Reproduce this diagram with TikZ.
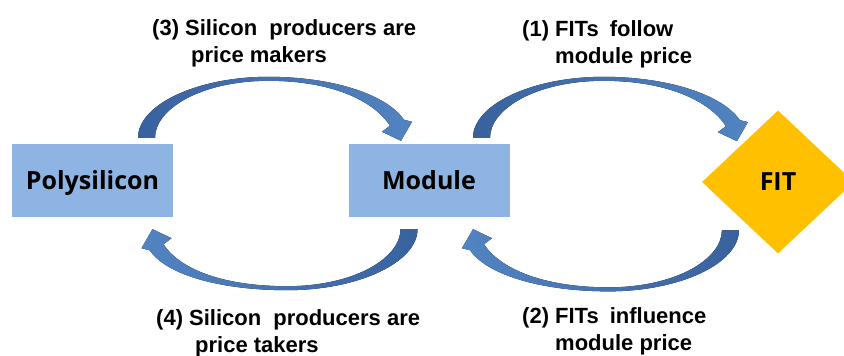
\documentclass[tikz,border=0pt]{standalone}
\usepackage{fontspec}
\setmainfont{Liberation Sans}
\newfontfamily\nodefont{Open Sans}
\usepackage{tikz}
\usetikzlibrary{shapes.geometric,calc}
\usepackage{xcolor}
\definecolor{boxblue}{RGB}{141,180,226}
\definecolor{fitgold}{RGB}{255,192,0}
\definecolor{arrowblue}{RGB}{82,132,194}
\definecolor{arrowdark}{RGB}{56,98,158}
\tikzstyle{block} = [rectangle, fill=boxblue, minimum width=161pt, minimum height=73pt, inner sep=0pt, text depth=0pt, font=\nodefont\bfseries\fontsize{25}{30}\selectfont]
\tikzstyle{decision} = [diamond, fill=fitgold, minimum width=152pt, minimum height=143pt, inner sep=0pt, font=\nodefont\bfseries\fontsize{25}{30}\selectfont]
\tikzstyle{note} = [anchor=north west, inner sep=0pt, align=left, font=\bfseries\fontsize{22}{27}\selectfont]
\tikzstyle{flowover} = [left color=arrowdark, right color=arrowblue]
\tikzstyle{flowunder} = [left color=arrowblue, right color=arrowdark]

% curved tapered arrow from tail #1 to tip #2, #3 = 1 (over) or -1 (under), #4 style
\newcommand{\flowarrow}[4]{%
  \def\flowsign{#3}%
  \fill[#4] ($(#1)+(\flowsign*-8.5,0)$)
    .. controls ($(#1)+(\flowsign*-8.5,\flowsign*-33)$) and ($(#1)+(\flowsign*50,\flowsign*-61)$) .. ($(#1)+(\flowsign*122,\flowsign*-61)$)
    .. controls ($(#1)+(\flowsign*185,\flowsign*-61)$) and ($(#2)+(\flowsign*-15,\flowsign*-47)$) .. ($(#2)+(\flowsign*3,\flowsign*-21)$)
    -- ($(#2)+(\flowsign*11,\flowsign*-19)$) -- (#2) -- ($(#2)+(\flowsign*-19,\flowsign*-9)$) -- ($(#2)+(\flowsign*-11,\flowsign*-15)$)
    .. controls ($(#2)+(\flowsign*-28,\flowsign*-41)$) and ($(#1)+(\flowsign*184,\flowsign*-57)$) .. ($(#1)+(\flowsign*122,\flowsign*-57)$)
    .. controls ($(#1)+(\flowsign*55,\flowsign*-57)$) and ($(#1)+(\flowsign*8.5,\flowsign*-29)$) .. ($(#1)+(\flowsign*8.5,0)$) -- cycle;
}

\begin{document}
\begin{tikzpicture}[x=1pt,y=-1pt]
\useasboundingbox (0,0) rectangle (844,356);

% Markets
\node[block] (poly) at (92.5,180.5) {Polysilicon};
\node[block] (module) at (429,180.5) {Module};
\node[decision] (fit) at (778,182) {FIT};

% Arrow ends
\coordinate (t3) at ($(poly.north)+(54,-6)$);
\coordinate (h3) at ($(module.north)+(-28,-3)$);
\coordinate (t1) at ($(module.north)+(52.5,-6)$);
\coordinate (h1) at ($(fit.north west)+(-3,-5)$);
\coordinate (t2) at ($(fit.south west)+(-9.5,12.5)$);
\coordinate (h2) at ($(module.south)+(44,12)$);
\coordinate (t4) at ($(module.south)+(-20,12)$);
\coordinate (h4) at ($(poly.south)+(60,12)$);

% Arrows
\flowarrow{t3}{h3}{1}{flowover}
\flowarrow{t1}{h1}{1}{flowover}
\flowarrow{t2}{h2}{-1}{flowunder}
\flowarrow{t4}{h4}{-1}{flowunder}

% Labels
\node[note] (lab3) at (152,19) {(3) Silicon\hspace{12pt}producers are\\\hspace*{39pt}price makers};
\node[note] (lab1) at (522,20) {(1) FITs\hspace{11pt}follow\\\hspace*{33pt}module price};
\node[note] (lab4) at (156,309) {(4) Silicon\hspace{12pt}producers are\\\hspace*{39pt}price takers};
\node[note] (lab2) at (522,307) {(2) FITs\hspace{11pt}influence\\\hspace*{33pt}module price};
\end{tikzpicture}
\end{document}
